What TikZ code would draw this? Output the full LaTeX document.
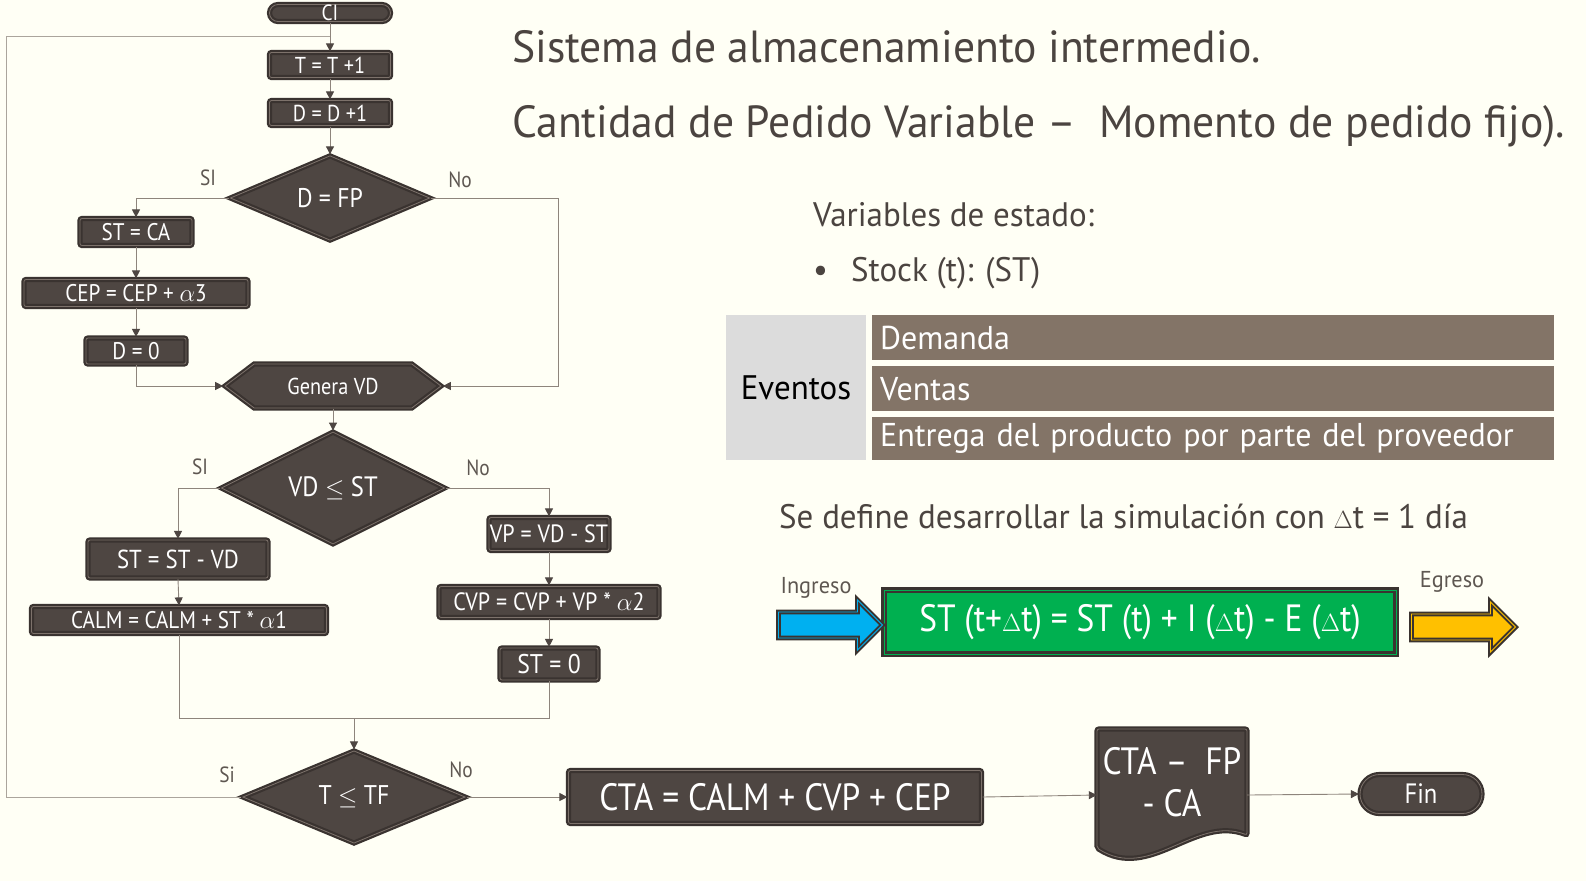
\documentclass[tikz,border=0pt]{standalone}
\usepackage{fontspec}
\setmainfont[FakeStretch=0.88]{PT Sans}
\newfontfamily\rfont[FakeStretch=0.97]{PT Sans}
\usetikzlibrary{positioning, arrows.meta, shapes.geometric, shapes.misc, shapes.symbols, shapes.arrows}

\definecolor{bgcream}{HTML}{FFFFF5}
\definecolor{boxfill}{HTML}{4E4642}
\definecolor{boxedge}{HTML}{3A3330}
\definecolor{boxline}{HTML}{7D726B}
\definecolor{linkgray}{HTML}{8E857C}
\definecolor{loopgray}{HTML}{ABA59C}
\definecolor{labelgray}{HTML}{5E5751}
\definecolor{titlegray}{HTML}{4B4440}
\definecolor{rowbrown}{HTML}{837467}
\definecolor{cellgray}{HTML}{DCDCDC}
\definecolor{eqgreen}{HTML}{00B050}
\definecolor{inblue}{HTML}{00B0F0}
\definecolor{outgold}{HTML}{FFC000}

\tikzset{
  fs/.style={font=\fontsize{#1}{#1}\selectfont},
  rs/.style={font=\rfont\fontsize{#1}{#1}\selectfont},
  flow/.style={fill=boxfill, draw=boxedge, line width=2.2pt, double=boxline, double distance=0.8pt, text=white, inner sep=0pt},
  procbox/.style={flow, rectangle, rounded corners=2pt},
  termbox/.style={flow, rounded rectangle},
  decbox/.style={flow, diamond},
  prepbox/.style={flow, signal, signal to=west and east, signal pointer angle=74},
  link/.style={draw=linkgray, line width=0.9pt},
  arr/.style={link, -{Triangle[length=8pt, width=8pt, color=boxfill]}},
  answer/.style={text=labelgray, fs=22, inner sep=0pt},
  slide/.style={anchor=base west, inner sep=0pt, text=titlegray},
  evrow/.style={fill=rowbrown, text=white, anchor=north west, minimum height=45, text width=666, inner xsep=8pt, inner ysep=0pt, align=left, rs=33},
  blockarrow/.style={single arrow, draw=boxedge, line width=2pt, double distance=0.9pt, inner xsep=0pt, inner ysep=12pt, single arrow head extend=12pt, minimum height=104}
}

\begin{document}
\begin{tikzpicture}[x=1pt, y=-1pt]
    \fill[bgcream] (0,0) rectangle (1586,881);

    % flowchart
    \node (ci) [termbox, minimum width=121, minimum height=17, fs=22] at (330,13) {CI};
    \node (t1) [procbox, minimum width=121, minimum height=25, fs=23] at (330,65) {T = T +1};
    \node (d1) [procbox, minimum width=121, minimum height=25, fs=23] at (330,113) {D = D +1};
    \node (dfp) [decbox, minimum width=200, minimum height=77, fs=27] at (330,198) {D = FP};
    \node (stca) [procbox, minimum width=112, minimum height=27, fs=24] at (136,232) {ST = CA};
    \node (cep) [procbox, minimum width=224, minimum height=27, fs=24] at (136,293) {CEP = CEP + $\alpha$3};
    \node (d0) [procbox, minimum width=100, minimum height=26, fs=24] at (136,351) {D = 0};
    \node (gen) [prepbox, minimum width=216, minimum height=44, fs=23] at (333,386) {Genera VD};
    \node (vdst) [decbox, minimum width=224, minimum height=76, fs=28] at (333,488) {VD $\leq$ ST};
    \node (stvd) [procbox, minimum width=180, minimum height=38, fs=26] at (178,559) {ST = ST - VD};
    \node (calm) [procbox, minimum width=295, minimum height=27, fs=24] at (179,620) {CALM = CALM + ST * $\alpha$1};
    \node (vpvd) [procbox, minimum width=120, minimum height=33, fs=25] at (549,534) {VP = VD - ST};
    \node (cvp) [procbox, minimum width=220, minimum height=31, fs=25] at (549,602) {CVP = CVP + VP * $\alpha$2};
    \node (st0) [procbox, minimum width=98, minimum height=32, fs=27] at (549,664) {ST = 0};
    \node (ttf) [decbox, minimum width=223, minimum height=77, fs=27] at (354,797) {T $\leq$ TF};
    \node (cta) [procbox, minimum width=413, minimum height=53, fs=38] at (775,797) {CTA = CALM + CVP + CEP};
    \path [flow, rounded corners=2pt] (1097,729) -- (1247,729) -- (1247,835)
        .. controls (1195,815) and (1150,882) .. (1097,848) -- cycle;
    \node (doc) [text=white, align=center, inner sep=0pt, minimum width=150, minimum height=106, fs=38] at (1172,782) {CTA – \ FP\\[4pt]- CA};
    \node (fin) [termbox, minimum width=122, minimum height=39, fs=28] at (1421,794) {Fin};

    \node (si1) [answer] at (208,178) {SI};
    \node (no1) [answer] at (460,180) {No};
    \node (si2) [answer] at (200,467) {SI};
    \node (no2) [answer] at (478,468) {No};
    \node (si3) [answer] at (227,775) {Si};
    \node (no3) [answer] at (461,770) {No};

    \coordinate (join) at (330,36);
    \coordinate (loopcorner) at (6,36);
    \coordinate (merge) at (354,718);

    \draw [arr] (ci.south) -- (t1.north);
    \draw [arr] (t1.south) -- (d1.north);
    \draw [arr] (d1.south) -- (dfp.north);
    \draw [arr] (dfp.west) -| (stca.north);
    \draw [arr] (stca.south) -- (cep.north);
    \draw [arr] (cep.south) -- (d0.north);
    \draw [arr] (d0.south) |- (gen.west);
    \draw [arr] (dfp.east) -- ++(127,0) |- (gen.east);
    \draw [arr] (gen.south) -- (vdst.north);
    \draw [arr] (vdst.west) -| (stvd.north);
    \draw [arr] (vdst.east) -| (vpvd.north);
    \draw [arr] (stvd.south) -- (calm.north);
    \draw [arr] (vpvd.south) -- (cvp.north);
    \draw [arr] (cvp.south) -- (st0.north);
    \draw [link] (calm.south) |- (merge);
    \draw [link] (st0.south) |- (merge);
    \draw [arr] (merge) -- (ttf.north);
    \draw [link, draw=loopgray] (ttf.west) -| (loopcorner) -- (join);
    \draw [arr] (ttf.east) -- (cta.west);
    \draw [arr] (cta.east) -- ([yshift=-13pt]doc.west);
    \draw [arr] ([yshift=-13pt]doc.east) -- (fin.west);

    % texts on the right
    \node (tit1) [slide, rs=45] at (512,62) {Sistema de almacenamiento intermedio.};
    \node (tit2) [slide, rs=45] at (512,137) {Cantidad de Pedido Variable – \ Momento de pedido fijo).};
    \node (vars) [slide, rs=34] at (813,226) {Variables de estado:};
    \node (dot) [slide, rs=34] at (813,281) {•};
    \node (stock) [slide, rs=34] at (851,281) {Stock (t): (ST)};

    \node (ev) [fill=cellgray, minimum width=140, minimum height=145, inner sep=0pt, rs=34] at (796,387.5) {Eventos};
    \node (dem) [evrow] at (872,315) {Demanda};
    \node (ven) [evrow] at (872,366) {Ventas};
    \node (ent) [evrow, minimum height=43] at (872,417) {Entrega del producto por parte del proveedor};

    \node (sedef) [slide, rs=34] at (779,528) {Se define desarrollar la simulación con $\Delta$t = 1 día};

    \node (eq) [flow, rectangle, fill=eqgreen, double=eqgreen, minimum width=512, minimum height=64, fs=38] at (1140,622) {ST (t+$\Delta$t) = ST (t) + I ($\Delta$t) - E ($\Delta$t)};
    \node (inarr) [blockarrow, fill=inblue, double=inblue] at (824,625) {};
    \node (outarr) [blockarrow, fill=outgold, double=outgold] at (1457,627) {};
    \node (ing) [answer, rs=23] at (816,588) {Ingreso};
    \node (egr) [answer, rs=23] at (1452,582) {Egreso};
\end{tikzpicture}
\end{document}
